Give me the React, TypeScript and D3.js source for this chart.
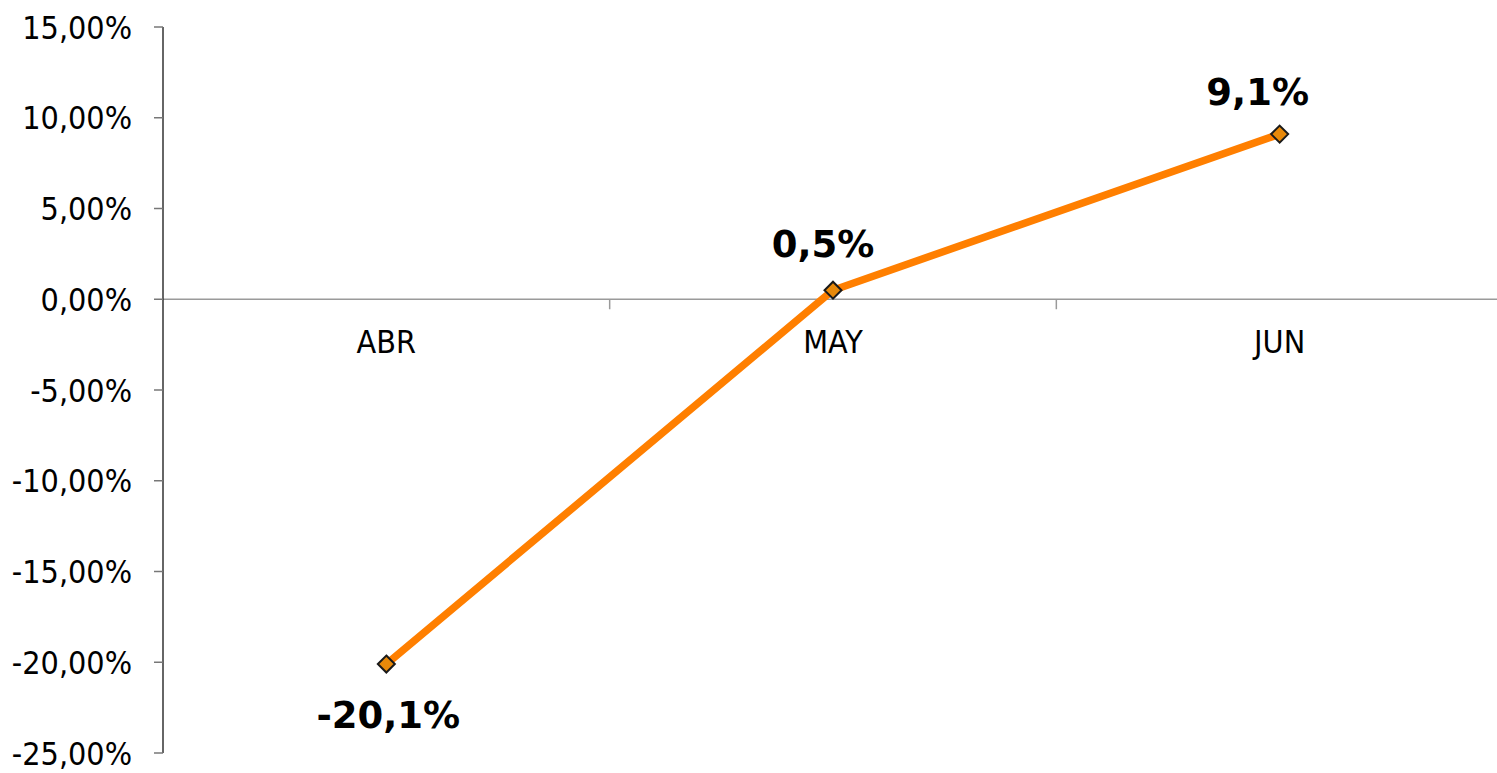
import React from "react";
import * as d3 from "d3";

const categories = ["ABR", "MAY", "JUN"];
const values = [-20.1, 0.5, 9.1];
const valueLabels = ["-20,1%", "0,5%", "9,1%"];
const yTicks = [15, 10, 5, 0, -5, -10, -15, -20, -25];

const W = 1497;
const H = 773;
const left = 163;
const right = 1503;
const top = 27;
const bottom = 753;

// label placement relative to points (layout, not data)
const labelOffsets = [
  { dx: 2, dy: 64 },
  { dx: -10, dy: -33 },
  { dx: -22, dy: -29 },
];

export default function App() {
  const x = d3.scaleBand<string>().domain(categories).range([left, right]);
  const y = d3.scaleLinear().domain([-25, 15]).range([bottom, top]);
  const cx = (c: string) => (x(c) as number) + x.bandwidth() / 2;
  const pts: [number, number][] = values.map((v, i) => [cx(categories[i]), y(v)]);
  const line = d3.line<[number, number]>()(pts) as string;
  const fmt = (v: number) => v.toFixed(2).replace(".", ",") + "%";
  const tickFont = "'DejaVu Sans Condensed', 'DejaVu Sans', sans-serif";
  const y0 = y(0);
  const boundaries = categories.slice(1).map((c) => x(c) as number);
  const d = 8.5;

  return (
    <svg
      width={W}
      height={H}
      style={{ position: "absolute", left: 0, top: 0, background: "#fff" }}
    >
      <line x1={left} x2={W} y1={y0} y2={y0} stroke="#9a9a9a" strokeWidth={1.5} />
      {boundaries.map((bx, i) => (
        <line key={i} x1={bx} x2={bx} y1={y0} y2={y0 + 10} stroke="#9a9a9a" strokeWidth={1.5} />
      ))}
      <line x1={left} x2={left} y1={top} y2={bottom} stroke="#333" strokeWidth={1.5} />
      {yTicks.map((t) => (
        <g key={t}>
          <line x1={left - 9} x2={left} y1={y(t)} y2={y(t)} stroke="#777" strokeWidth={1.5} />
          <text
            x={left - 31}
            y={y(t)}
            dy="0.36em"
            textAnchor="end"
            fontFamily={tickFont}
            fontSize={32}
            fill="#000"
          >
            {fmt(t)}
          </text>
        </g>
      ))}
      {categories.map((c) => (
        <text
          key={c}
          x={cx(c)}
          y={353}
          textAnchor="middle"
          fontFamily={tickFont}
          fontSize={32}
          fill="#000"
        >
          {c}
        </text>
      ))}
      <path d={line} fill="none" stroke="#FF7F00" strokeWidth={7.5} strokeLinejoin="round" />
      {pts.map(([px, py], i) => (
        <path
          key={i}
          d={`M${px},${py - d}L${px + d},${py}L${px},${py + d}L${px - d},${py}Z`}
          fill="#E8890A"
          stroke="#1a1a1a"
          strokeWidth={2}
        />
      ))}
      {pts.map(([px, py], i) => (
        <text
          key={"l" + i}
          x={px + labelOffsets[i].dx}
          y={py + labelOffsets[i].dy}
          textAnchor="middle"
          fontFamily="'DejaVu Sans', Verdana, sans-serif"
          fontWeight="bold"
          fontSize={37}
          fill="#000"
        >
          {valueLabels[i]}
        </text>
      ))}
    </svg>
  );
}
